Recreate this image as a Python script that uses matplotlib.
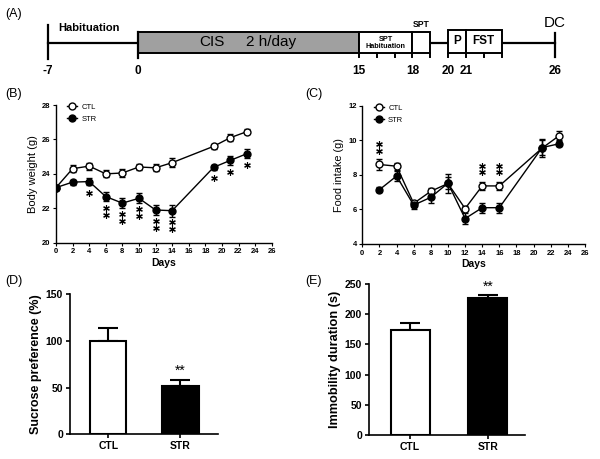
import matplotlib.pyplot as plt
import numpy as np
from matplotlib.patches import Rectangle

plt.rcParams['font.family'] = ['Liberation Sans', 'DejaVu Sans']

# (A) schedule
tl_days = [-7, 0, 15, 18, 20, 21, 26]
tl_labels = ['-7', '0', '15', '18', '20', '21', '26']
small_ticks = [15, 16, 17, 18, 19, 20, 21, 22, 23]

# (B) body weight
bw_days = [0, 2, 4, 6, 8, 10, 12, 14, 19, 21, 23]
bw_ctl = [23.2, 24.3, 24.45, 24.0, 24.05, 24.4, 24.35, 24.65, 25.6, 26.1, 26.45]
bw_ctl_err = [0.15, 0.2, 0.2, 0.2, 0.25, 0.2, 0.2, 0.25, 0.15, 0.2, 0.15]
bw_str = [23.2, 23.52, 23.55, 22.68, 22.3, 22.58, 21.9, 21.86, 24.38, 24.78, 25.17]
bw_str_err = [0.15, 0.15, 0.2, 0.25, 0.3, 0.3, 0.3, 0.35, 0.15, 0.25, 0.25]
bw_sig = [0, 0, 1, 2, 2, 2, 2, 2, 1, 1, 1]

# (C) food intake
fi_days = [2, 4, 6, 8, 10, 12, 14, 16, 21, 23]
fi_ctl = [8.6, 8.5, 6.35, 7.05, 7.5, 6.05, 7.36, 7.36, 9.55, 10.27]
fi_ctl_err = [0.3, 0.2, 0.15, 0.2, 0.55, 0.15, 0.25, 0.25, 0.5, 0.25]
fi_str = [7.14, 7.93, 6.25, 6.7, 7.52, 5.47, 6.1, 6.1, 9.58, 9.8]
fi_str_err = [0.15, 0.3, 0.25, 0.3, 0.35, 0.3, 0.3, 0.3, 0.45, 0.15]
fi_sig = [2, 0, 0, 0, 0, 0, 2, 2, 0, 0]

# (D), (E)
groups = ['CTL', 'STR']
sucrose = [100, 51.5]
sucrose_err = [13.5, 6.5]
immob = [174, 226.5]
immob_err = [11, 4.5]

fig = plt.figure(figsize=(6, 4.59), dpi=100)

# ---- (A) timeline, schematic (non linear) day axis
knot_days = [-7, 0, 15, 26]
knot_pos = [47.7, 138.3, 359, 555]
fwd = lambda d: np.interp(d, knot_days, knot_pos)
inv = lambda p: np.interp(p, knot_pos, knot_days)

axA = fig.add_axes([47.7 / 600, 1 - 80 / 459, (555 - 47.7) / 600, 68.25 / 459])
axA.set_xscale('function', functions=(fwd, inv))
axA.set_xlim(-7, 26)
axA.set_ylim(-3.5, 3)
axA.axis('off')

axA.plot([-7, 26], [0, 0], color='black', lw=1.6, zorder=1, clip_on=False)
boxes = [(0, 15, 1.1, '#a0a0a0'), (15, 18, 1.1, 'white'), (18, 19, 1.1, 'white'),
         (20, 21, 1.27, 'white'), (21, 23, 1.27, 'white')]
for x0, x1, top, fc in boxes:
    axA.add_patch(Rectangle((x0, -0.9), x1 - x0, top + 0.9, facecolor=fc,
                            edgecolor='black', lw=1.4, zorder=2, clip_on=False))
axA.plot([-7, -7], [-1.5, 1.74], color='black', lw=1.6, clip_on=False)
axA.plot([0, 0], [-1.4, 1.1], color='black', lw=1.6, clip_on=False)
axA.plot([26, 26], [-1.3, 0.98], color='black', lw=1.6, clip_on=False)
for d in small_ticks:
    axA.plot([d, d], [-0.9, -1.35], color='black', lw=1.4, clip_on=False)
for d, lab in zip(tl_days, tl_labels):
    axA.text(d, -2.64, lab, ha='center', va='center', fontsize=8.5, fontweight='bold')

axA.text(-3.8, 1.45, 'Habituation', ha='center', va='center', fontsize=8, fontweight='bold')
axA.text(5, 0.1, 'CIS', ha='center', va='center', fontsize=11)
axA.text(9, 0.1, '2 h/day', ha='center', va='center', fontsize=11)
axA.text(16.5, 0.05, 'SPT\nHabituation', ha='center', va='center', fontsize=5.2,
         fontweight='bold', linespacing=1.05)
axA.text(18.5, 1.74, 'SPT', ha='center', va='center', fontsize=6.2, fontweight='bold')
axA.text(20.5, 0.19, 'P', ha='center', va='center', fontsize=8.5, fontweight='bold')
axA.text(22, 0.19, 'FST', ha='center', va='center', fontsize=8.5, fontweight='bold')
axA.text(26, 1.96, 'DC', ha='center', va='center', fontsize=11)


def line_panel(ax, days, ctl, ctl_err, strv, str_err):
    ax.errorbar(days, ctl, yerr=ctl_err, fmt='none', ecolor='black', elinewidth=1,
                capsize=2.5, capthick=1, zorder=2)
    ax.errorbar(days, strv, yerr=str_err, fmt='none', ecolor='black', elinewidth=1,
                capsize=2.5, capthick=1, zorder=2)
    ax.plot(days, ctl, '-o', color='black', mfc='white', mec='black', mew=1,
            ms=5, lw=1, label='CTL', zorder=3)
    ax.plot(days, strv, '-o', color='black', mfc='black', mec='black',
            ms=5, lw=1, label='STR', zorder=4)
    ax.set_xlim(0, 26)
    ax.set_xticks(range(0, 27, 2))
    for s in ['top', 'right']:
        ax.spines[s].set_visible(False)
    for s in ['left', 'bottom']:
        ax.spines[s].set_linewidth(1)
    ax.tick_params(labelsize=5.5, length=2.5, width=0.8, pad=1.5)
    for t in ax.get_xticklabels() + ax.get_yticklabels():
        t.set_fontweight('bold')
    ax.set_xlabel('Days', fontsize=7.5, fontweight='bold', labelpad=2)
    ax.legend(loc='upper left', bbox_to_anchor=(0.02, 1.06), frameon=False,
              fontsize=5.5, handlelength=1.3, handletextpad=0.6, labelspacing=0.6)


def stars(ax, xs, ys):
    ax.scatter(xs, ys, marker=(6, 2, 0), s=17, color='black', linewidths=0.85,
               zorder=5, clip_on=False)


# ---- (B)
axB = fig.add_axes([56 / 600, 1 - 242.7 / 459, 215.7 / 600, 137.7 / 459])
line_panel(axB, bw_days, bw_ctl, bw_ctl_err, bw_str, bw_str_err)
axB.set_ylim(20, 28)
axB.set_yticks([20, 22, 24, 26, 28])
axB.set_yticklabels(['20', '22', '24', '26', '28'], fontweight='bold')
axB.set_ylabel('Body weight (g)', fontsize=8, labelpad=3)
for d, v, n in zip(bw_days, bw_str, bw_sig):
    if n:
        stars(axB, [d] * n, [v - 0.65 - 0.4 * k for k in range(n)])

# ---- (C)
axC = fig.add_axes([362.3 / 600, 1 - 244 / 459, 222.7 / 600, 138.3 / 459])
line_panel(axC, fi_days, fi_ctl, fi_ctl_err, fi_str, fi_str_err)
axC.set_ylim(4, 12)
axC.set_yticks([4, 6, 8, 10, 12])
axC.set_yticklabels(['4', '6', '8', '10', '12'], fontweight='bold')
axC.set_ylabel('Food intake (g)', fontsize=7.8, labelpad=3)
for d, v, n in zip(fi_days, fi_ctl, fi_sig):
    if n:
        stars(axC, [d] * n, [v + 0.8 + 0.38 * k for k in range(n)])


def bar_panel(ax, vals, errs, ylabel, yticks, label_size):
    x = np.arange(len(groups))
    ax.errorbar(x, vals, yerr=[[0] * len(errs), errs], fmt='none', ecolor='black',
                elinewidth=1.5, capsize=7, capthick=1.5, zorder=1)
    ax.bar(x, vals, width=0.5, color=['white', 'black'], edgecolor='black',
           linewidth=1.5, zorder=2)
    ax.set_xticks(x)
    ax.set_xticklabels(groups, fontweight='bold')
    ax.set_yticks(yticks)
    ax.set_yticklabels([str(v) for v in yticks], fontweight='bold')
    ax.set_ylim(yticks[0], yticks[-1])
    for s in ['top', 'right']:
        ax.spines[s].set_visible(False)
    for s in ['left', 'bottom']:
        ax.spines[s].set_linewidth(1.2)
    ax.tick_params(labelsize=7.5, length=3, width=1.2, pad=2)
    ax.set_ylabel(ylabel, fontsize=label_size, fontweight='bold', labelpad=3)
    ax.annotate('**', (1, vals[1] + errs[1]), xytext=(0, 3.5), textcoords='offset points',
                ha='center', va='baseline', fontsize=10, annotation_clip=False)


# ---- (D)
axD = fig.add_axes([70 / 600, 1 - 434.3 / 459, 148 / 600, 140.3 / 459])
bar_panel(axD, sucrose, sucrose_err, 'Sucrose preference (%)', [0, 50, 100, 150], 9)
axD.set_xlim(-0.53, 1.52)

# ---- (E)
axE = fig.add_axes([369 / 600, 1 - 435 / 459, 156 / 600, 151 / 459])
bar_panel(axE, immob, immob_err, 'Immobility duration (s)', [0, 50, 100, 150, 200, 250], 9.2)
axE.set_xlim(-0.53, 1.48)

# panel letters
for lab, px, py in [('(A)', 5, 14), ('(B)', 5, 94), ('(C)', 305, 94),
                    ('(D)', 5, 281), ('(E)', 305, 281)]:
    fig.text(px / 600, 1 - py / 459, lab, fontsize=9, ha='left', va='center')

fig.savefig('out.png', dpi=100)
